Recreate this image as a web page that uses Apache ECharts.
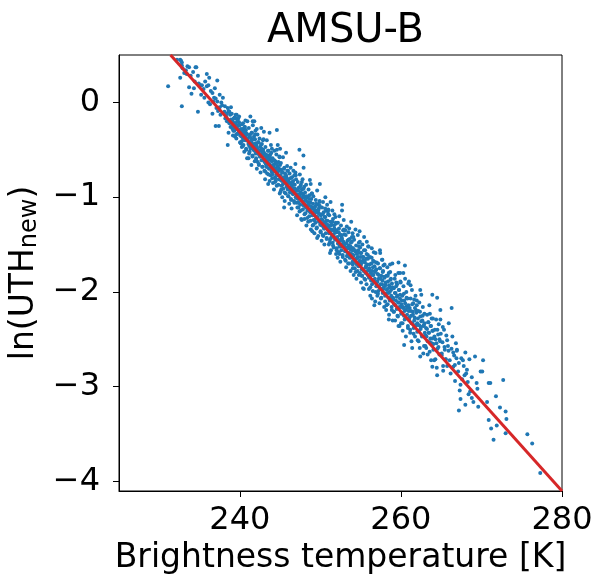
<!DOCTYPE html>
<html>
<head>
<meta charset="utf-8">
<script src="https://cdn.jsdelivr.net/npm/echarts@6/dist/echarts.min.js"></script>
<style>
  html, body { margin: 0; padding: 0; background: #fff; }
  #chart { width: 596px; height: 581px; }
</style>
</head>
<body>
<div id="chart"></div>
<script>
// tick positions
const xTicks = [240, 260, 280]
const yTicks = [-4, -3, -2, -1, 0]

// [brightness temperature K, ln(UTH_new)], cold (sparse) end
const coldEnd = [
  [231.1,0.17],
  [232.2,0.45],[232.6,0.45],[232.7,0.44],[232.8,0.42],[232.8,0.39],[232.6,0.26],[232.8,-0.04],[232.9,0.36],
  [233.3,0.34],[233.5,0.38],[233.7,0.37],[233.7,0.16],[233.4,0.30],[233.9,0.28],[233.1,0.31],
  [234.0,0.09],[234.2,0.32],[234.5,0.37],[234.6,0.37],[234.8,0.28],[234.8,-0.10],[234.4,0.22],[234.9,0.20],[234.3,0.15],
  [235.1,0.18],[235.3,0.18],[235.9,0.30],[235.9,0.17],[235.5,0.14],[235.7,0.22],[235.2,0.08],[235.6,0.05],
  [236.1,0.18],[236.2,0.26],[236.6,0.10],[236.8,0.05],[236.1,0.00],[236.6,-0.12],[236.4,0.12],[236.9,0.15],[236.3,-0.02],[236.7,0.01],
  [237.2,0.23],[237.0,0.04],[237.2,0.01],[237.8,-0.03],[237.6,-0.13],[237.0,-0.25],[237.4,-0.25],[237.5,-0.05],[237.3,-0.09],[237.9,0.05],[237.7,0.00],[237.1,-0.06],[237.5,0.08],
  [238.5,-0.06],[238.7,-0.22],[238.6,-0.32],[238.5,-0.45],[238.1,-0.10],[238.3,-0.15],[238.4,-0.12],[238.8,-0.13],[238.9,-0.18],[238.2,-0.17],[238.6,-0.09],[238.9,-0.05],[238.4,-0.20],[238.7,-0.10],[238.15,-0.04],[238.85,-0.26],
  [239.0,-0.12],[239.5,-0.17],[239.4,-0.36],[239.1,-0.20],[239.2,-0.25],[239.3,-0.22],[239.6,-0.28],[239.7,-0.20],[239.8,-0.24],[239.9,-0.30],[239.5,-0.23],[239.2,-0.30],[239.6,-0.13],[239.8,-0.17],[239.4,-0.27],[239.9,-0.21],[239.1,-0.28],[239.7,-0.33],[239.35,-0.16],[239.55,-0.34]
]

// dense middle of the band
const midBand = [
  [240.05,-0.35],[240.1,-0.43],[240.15,-0.30],[240.2,-0.36],[240.25,-0.41],[240.3,-0.33],[240.35,-0.28],[240.4,-0.38],[240.45,-0.45],[240.5,-0.34],[240.55,-0.31],[240.6,-0.26],[240.65,-0.40],[240.7,-0.36],[240.75,-0.29],[240.8,-0.50],[240.85,-0.33],[240.9,-0.59],[240.95,-0.38],[240.4,-0.22],[240.7,-0.19],[240.25,-0.47],[240.55,-0.52],
  [241.03,-0.41],[241.08,-0.59],[241.12,-0.27],[241.17,-0.46],[241.22,-0.52],[241.26,-0.34],[241.31,-0.15],[241.35,-0.48],[241.40,-0.38],[241.44,-0.66],[241.49,-0.32],[241.53,-0.43],[241.58,-0.56],[241.62,-0.24],[241.67,-0.45],[241.71,-0.50],[241.76,-0.36],[241.80,-0.20],[241.85,-0.62],[241.89,-0.39],[241.94,-0.30],[241.98,-0.54],[241.6,-0.20],
  [242.02,-0.59],[242.06,-0.45],[242.11,-0.70],[242.15,-0.49],[242.19,-0.34],[242.23,-0.63],[242.28,-0.53],[242.32,-0.42],[242.36,-0.66],[242.40,-0.55],[242.45,-0.38],[242.49,-0.57],[242.53,-0.47],[242.57,-0.74],[242.61,-0.51],[242.66,-0.27],[242.70,-0.61],[242.74,-0.44],[242.78,-0.54],[242.83,-0.68],[242.87,-0.40],[242.91,-0.50],[242.95,-0.56],[242.99,-0.31],[242.1,-0.28],
  [243.01,-0.53],[243.05,-0.72],[243.10,-0.62],[243.14,-0.81],[243.18,-0.47],[243.22,-0.65],[243.27,-0.58],[243.31,-0.68],[243.35,-0.40],[243.39,-0.75],[243.44,-0.56],[243.48,-0.63],[243.52,-0.86],[243.56,-0.51],[243.61,-0.70],[243.65,-0.60],[243.69,-0.32],[243.73,-0.66],[243.78,-0.55],[243.82,-0.77],[243.86,-0.45],[243.90,-0.61],[243.95,-0.73],[243.98,-0.49],[243.7,-0.83],
  [244.03,-0.76],[244.07,-0.59],[244.12,-0.85],[244.16,-0.68],[244.20,-0.73],[244.24,-0.92],[244.29,-0.51],[244.33,-0.65],[244.37,-0.79],[244.41,-0.62],[244.46,-0.83],[244.50,-0.71],[244.54,-0.55],[244.58,-0.88],[244.63,-0.67],[244.67,-0.74],[244.71,-0.45],[244.75,-0.77],[244.80,-0.63],[244.84,-0.81],[244.88,-0.70],[244.92,-0.57],[244.96,-0.96],[244.99,-0.66],[244.6,-0.29],[244.6,-0.50],[244.4,-0.80],
  [245.02,-0.77],[245.06,-0.94],[245.10,-0.64],[245.15,-0.88],[245.19,-0.71],[245.23,-0.83],[245.27,-1.00],[245.32,-0.74],[245.36,-0.58],[245.40,-0.91],[245.44,-0.80],[245.49,-0.85],[245.53,-0.69],[245.57,-1.04],[245.61,-0.75],[245.66,-0.82],[245.70,-0.96],[245.74,-0.53],[245.78,-0.79],[245.83,-0.89],[245.87,-0.67],[245.91,-0.84],[245.95,-0.92],[245.98,-0.72],[245.0,-0.49],[245.5,-1.11],
  [246.01,-0.99],[246.05,-0.82],[246.09,-0.90],[246.14,-1.07],[246.18,-0.75],[246.22,-0.95],[246.26,-0.85],[246.31,-0.69],[246.35,-1.02],[246.39,-0.88],[246.43,-1.12],[246.48,-0.79],[246.52,-0.93],[246.56,-0.84],[246.60,-0.97],[246.65,-0.72],[246.69,-0.91],[246.73,-1.04],[246.77,-0.77],[246.82,-0.87],[246.86,-0.94],[246.90,-0.65],[246.94,-1.00],[246.98,-0.81],[246.9,-0.74],
  [247.03,-0.93],[247.07,-1.06],[247.11,-1.19],[247.15,-0.97],[247.20,-0.84],[247.24,-1.02],[247.28,-1.11],[247.32,-0.90],[247.37,-0.99],[247.41,-1.15],[247.45,-0.76],[247.49,-1.08],[247.54,-0.95],[247.58,-0.87],[247.62,-1.23],[247.66,-1.01],[247.71,-0.92],[247.75,-1.04],[247.79,-0.81],[247.83,-1.13],[247.88,-0.98],[247.92,-0.69],[247.96,-1.09],[247.99,-0.89],[247.4,-0.50],[247.9,-0.56],[247.7,-0.84],[247.7,-1.24],
  [248.02,-1.23],[248.06,-1.08],[248.10,-0.95],[248.14,-1.17],[248.19,-1.03],[248.23,-0.87],[248.27,-1.30],[248.31,-1.11],[248.36,-1.00],[248.40,-1.14],[248.44,-1.05],[248.48,-1.26],[248.53,-0.92],[248.57,-1.09],[248.61,-1.20],[248.65,-0.98],[248.70,-0.82],[248.74,-1.16],[248.78,-1.06],[248.82,-1.34],[248.87,-1.02],[248.91,-1.12],[248.95,-0.96],[248.98,-1.19],[248.8,-0.86],
  [249.01,-1.16],[249.05,-1.30],[249.09,-1.07],[249.13,-0.99],[249.18,-1.24],[249.22,-1.13],[249.26,-1.38],[249.30,-1.19],[249.35,-1.10],[249.39,-1.27],[249.43,-1.03],[249.47,-1.21],[249.52,-1.33],[249.56,-1.14],[249.60,-0.93],[249.64,-1.22],[249.69,-1.08],[249.73,-1.41],[249.77,-1.17],[249.81,-1.12],[249.86,-1.25],[249.90,-1.05],[249.94,-0.86],[249.98,-1.29],[249.9,-1.04],[249.0,-1.36],[249.6,-1.43],
  [250.03,-1.36],[250.07,-1.19],[250.11,-1.29],[250.16,-1.46],[250.20,-1.11],[250.24,-1.24],[250.28,-1.40],[250.33,-1.05],[250.37,-1.31],[250.41,-1.16],[250.45,-1.33],[250.50,-1.50],[250.54,-1.21],[250.58,-1.27],[250.62,-1.00],[250.67,-1.38],[250.71,-1.14],[250.75,-1.30],[250.79,-1.43],[250.84,-1.08],[250.88,-1.25],[250.92,-1.34],[250.96,-1.18],[250.99,-1.13],[250.6,-1.12],
  [251.02,-1.32],[251.06,-1.50],[251.10,-1.19],[251.15,-1.37],[251.19,-1.45],[251.23,-1.26],[251.27,-1.05],[251.32,-1.56],[251.36,-1.34],[251.40,-1.29],[251.44,-1.41],[251.49,-1.14],[251.53,-1.48],[251.57,-1.23],[251.61,-1.39],[251.66,-1.53],[251.70,-1.30],[251.74,-1.18],[251.78,-1.36],[251.83,-1.43],[251.87,-1.21],[251.91,-1.27],[251.95,-1.60],[251.98,-1.35],[251.2,-1.59],
  [252.01,-1.54],[252.05,-1.37],[252.09,-1.44],[252.14,-1.64],[252.18,-1.27],[252.22,-1.49],[252.26,-1.58],[252.31,-1.33],[252.35,-1.20],[252.39,-1.52],[252.43,-1.40],[252.48,-1.68],[252.52,-1.45],[252.56,-1.30],[252.60,-1.56],[252.65,-1.42],[252.69,-1.14],[252.73,-1.50],[252.77,-1.61],[252.82,-1.35],[252.86,-1.47],[252.90,-1.24],[252.94,-1.51],[252.98,-1.39],[252.7,-1.08],
  [253.03,-1.49],[253.07,-1.66],[253.11,-1.57],[253.15,-1.40],[253.20,-1.74],[253.24,-1.53],[253.28,-1.31],[253.32,-1.62],[253.37,-1.46],[253.41,-1.59],[253.45,-1.70],[253.49,-1.37],[253.54,-1.51],[253.58,-1.33],[253.62,-1.64],[253.66,-1.44],[253.71,-1.55],[253.75,-1.78],[253.79,-1.48],[253.83,-1.26],[253.88,-1.60],[253.92,-1.42],[253.96,-1.54],[253.99,-1.68],[253.1,-1.35],
  [254.02,-1.71],[254.06,-1.54],[254.10,-1.62],[254.14,-1.82],[254.19,-1.45],[254.23,-1.66],[254.27,-1.75],[254.31,-1.57],[254.36,-1.34],[254.40,-1.69],[254.44,-1.51],[254.48,-1.86],[254.53,-1.60],[254.57,-1.64],[254.61,-1.78],[254.65,-1.40],[254.70,-1.56],[254.74,-1.73],[254.78,-1.48],[254.82,-1.68],[254.87,-1.36],[254.91,-1.80],[254.95,-1.59],[254.98,-1.63],[254.0,-1.38],[254.1,-1.42],[254.8,-1.52],[254.9,-1.47],
  [255.01,-1.72],[255.05,-1.90],[255.09,-1.59],[255.13,-1.76],[255.18,-1.83],[255.22,-1.50],[255.26,-1.67],[255.30,-1.96],[255.35,-1.63],[255.39,-1.78],[255.43,-1.42],[255.47,-1.86],[255.52,-1.69],[255.56,-1.56],[255.60,-1.80],[255.64,-1.74],[255.69,-1.65],[255.73,-1.92],[255.77,-1.47],[255.81,-1.71],[255.86,-1.82],[255.90,-1.61],[255.94,-1.52],[255.98,-1.77],[255.4,-1.97],
  [256.03,-1.97],[256.07,-1.75],[256.12,-1.84],[256.16,-1.63],[256.20,-2.04],[256.25,-1.80],[256.29,-1.88],[256.33,-1.70],[256.38,-1.54],[256.42,-1.92],[256.46,-1.78],[256.51,-1.99],[256.55,-1.67],[256.59,-1.82],[256.64,-1.58],[256.68,-1.89],[256.72,-1.73],[256.77,-1.86],[256.81,-2.10],[256.85,-1.59],[256.90,-1.77],[256.94,-1.94],[256.98,-1.69],[256.4,-2.07],[256.7,-2.14],
  [257.02,-1.90],[257.07,-2.04],[257.11,-1.81],[257.16,-1.70],[257.20,-1.99],[257.25,-1.86],[257.29,-1.94],[257.34,-2.12],[257.38,-1.75],[257.43,-1.59],[257.47,-1.92],[257.52,-2.07],[257.56,-1.83],[257.61,-1.97],[257.65,-1.66],[257.70,-1.88],[257.74,-2.01],[257.79,-1.78],[257.83,-1.72],[257.88,-1.95],[257.92,-2.16],[257.97,-1.85],[257.4,-1.56],[257.7,-1.66],
  [258.04,-2.10],[258.08,-1.93],[258.13,-2.02],[258.17,-2.19],[258.22,-1.83],[258.26,-1.98],[258.31,-1.74],[258.35,-2.13],[258.40,-1.89],[258.44,-2.06],[258.49,-1.80],[258.53,-2.24],[258.58,-1.95],[258.62,-2.00],[258.67,-1.79],[258.71,-2.07],[258.76,-1.86],[258.80,-2.04],[258.85,-2.16],[258.89,-1.91],[258.94,-1.70],[258.98,-2.30],[258.5,-2.29],[258.65,-1.71],
  [259.03,-2.06],[259.08,-2.21],[259.13,-1.96],[259.18,-2.13],[259.23,-1.86],[259.28,-2.30],[259.33,-2.01],[259.38,-2.09],[259.43,-1.90],[259.48,-2.18],[259.53,-1.92],[259.58,-2.04],[259.63,-2.26],[259.68,-1.80],[259.73,-2.11],[259.78,-1.98],[259.83,-2.36],[259.88,-2.07],[259.93,-1.89],[259.98,-2.16],[259.7,-1.69],[259.9,-1.80],[259.3,-1.82],[259.7,-2.36],
  [260.02,-2.33],[260.07,-2.13],[260.12,-2.22],[260.17,-2.04],[260.22,-2.41],[260.27,-2.17],[260.32,-1.94],[260.37,-2.25],[260.42,-2.09],[260.47,-2.29],[260.52,-1.86],[260.57,-2.19],[260.62,-2.47],[260.67,-2.00],[260.72,-2.15],[260.77,-2.24],[260.82,-2.07],[260.87,-2.36],[260.92,-1.91],[260.97,-2.20],[260.5,-1.72],[260.3,-1.80],[260.4,-2.56],
  [261.04,-2.30],[261.09,-2.17],[261.15,-2.43],[261.20,-2.07],[261.26,-2.25],[261.31,-2.52],[261.37,-1.98],[261.42,-2.33],[261.48,-2.21],[261.53,-2.12],[261.59,-2.38],[261.64,-2.08],[261.70,-2.27],[261.75,-2.47],[261.81,-2.04],[261.86,-2.19],[261.92,-2.35],[261.97,-2.14],[261.0,-1.89],[261.2,-1.93],[261.4,-2.59]
]

// extra points packed close to the line where the band is solid
const coreFill = [
  [239.07,-0.25],[239.15,-0.35],[239.24,-0.17],[239.32,-0.30],[239.41,-0.22],[239.49,-0.13],[239.57,-0.38],[239.66,-0.27],[239.74,-0.20],[239.82,-0.32],[239.91,-0.15],[239.97,-0.24],
  [240.03,-0.42],[240.11,-0.28],[240.20,-0.35],[240.28,-0.23],[240.37,-0.46],[240.45,-0.32],[240.53,-0.38],[240.62,-0.26],[240.70,-0.30],[240.78,-0.49],[240.87,-0.34],[240.94,-0.20],
  [241.07,-0.44],[241.15,-0.54],[241.24,-0.36],[241.32,-0.49],[241.41,-0.41],[241.49,-0.32],[241.57,-0.57],[241.66,-0.46],[241.74,-0.39],[241.82,-0.51],[241.91,-0.34],[241.97,-0.43],
  [242.03,-0.61],[242.11,-0.47],[242.20,-0.54],[242.28,-0.42],[242.37,-0.65],[242.45,-0.51],[242.53,-0.57],[242.62,-0.45],[242.70,-0.49],[242.78,-0.68],[242.87,-0.53],[242.94,-0.39],
  [243.07,-0.63],[243.15,-0.73],[243.24,-0.55],[243.32,-0.68],[243.41,-0.60],[243.49,-0.51],[243.57,-0.76],[243.66,-0.65],[243.74,-0.58],[243.82,-0.70],[243.91,-0.53],[243.97,-0.62],
  [244.03,-0.80],[244.11,-0.66],[244.20,-0.73],[244.28,-0.61],[244.37,-0.84],[244.45,-0.70],[244.53,-0.76],[244.62,-0.64],[244.70,-0.68],[244.78,-0.87],[244.87,-0.72],[244.94,-0.58],
  [245.07,-0.82],[245.15,-0.92],[245.24,-0.74],[245.32,-0.87],[245.41,-0.79],[245.49,-0.70],[245.57,-0.95],[245.66,-0.84],[245.74,-0.77],[245.82,-0.89],[245.91,-0.72],[245.97,-0.81],
  [246.03,-0.99],[246.11,-0.85],[246.20,-0.92],[246.28,-0.80],[246.37,-1.03],[246.45,-0.89],[246.53,-0.95],[246.62,-0.83],[246.70,-0.87],[246.78,-1.06],[246.87,-0.91],[246.94,-0.77],
  [247.07,-1.01],[247.15,-1.11],[247.24,-0.93],[247.32,-1.06],[247.41,-0.98],[247.49,-0.89],[247.57,-1.14],[247.66,-1.03],[247.74,-0.96],[247.82,-1.08],[247.91,-0.91],[247.97,-1.00],
  [248.03,-1.18],[248.11,-1.04],[248.20,-1.11],[248.28,-0.99],[248.37,-1.22],[248.45,-1.08],[248.53,-1.14],[248.62,-1.02],[248.70,-1.06],[248.78,-1.25],[248.87,-1.10],[248.94,-0.96],
  [249.07,-1.19],[249.15,-1.29],[249.24,-1.11],[249.32,-1.24],[249.41,-1.16],[249.49,-1.07],[249.57,-1.32],[249.66,-1.21],[249.74,-1.14],[249.82,-1.26],[249.91,-1.09],[249.97,-1.18],
  [250.03,-1.37],[250.11,-1.23],[250.20,-1.30],[250.28,-1.18],[250.37,-1.41],[250.45,-1.27],[250.53,-1.33],[250.62,-1.21],[250.70,-1.25],[250.78,-1.44],[250.87,-1.29],[250.94,-1.15],
  [251.07,-1.38],[251.15,-1.48],[251.24,-1.30],[251.32,-1.43],[251.41,-1.35],[251.49,-1.26],[251.57,-1.51],[251.66,-1.40],[251.74,-1.33],[251.82,-1.45],[251.91,-1.28],[251.97,-1.37],
  [252.03,-1.56],[252.11,-1.42],[252.20,-1.49],[252.28,-1.37],[252.37,-1.60],[252.45,-1.46],[252.53,-1.52],[252.62,-1.40],[252.70,-1.44],[252.78,-1.63],[252.87,-1.48],[252.94,-1.34],
  [253.07,-1.57],[253.15,-1.67],[253.24,-1.49],[253.32,-1.62],[253.41,-1.54],[253.49,-1.45],[253.57,-1.70],[253.66,-1.59],[253.74,-1.52],[253.82,-1.64],[253.91,-1.47],[253.97,-1.56],
  [254.03,-1.75],[254.11,-1.61],[254.20,-1.68],[254.28,-1.56],[254.37,-1.79],[254.45,-1.65],[254.53,-1.71],[254.62,-1.59],[254.70,-1.63],[254.78,-1.82],[254.87,-1.67],[254.94,-1.53],
  [255.07,-1.70],[255.15,-1.83],[255.24,-1.63],[255.32,-1.76],[255.41,-1.56],[255.49,-1.67],[255.57,-1.87],[255.66,-1.73],[255.74,-1.60],[255.82,-1.78],[255.91,-1.65],[255.97,-1.52],
  [256.03,-1.85],[256.11,-1.71],[256.20,-1.95],[256.28,-1.78],[256.37,-1.64],[256.45,-1.82],[256.53,-1.74],[256.62,-1.90],[256.70,-1.68],[256.78,-1.79],[256.87,-2.00],[256.94,-1.76],
  [257.07,-1.89],[257.15,-2.02],[257.24,-1.82],[257.32,-1.95],[257.41,-1.75],[257.49,-1.86],[257.57,-2.06],[257.66,-1.92],[257.74,-1.79],[257.82,-1.97],[257.91,-1.84],[257.97,-1.71],
  [258.03,-2.04],[258.11,-1.90],[258.20,-2.14],[258.28,-1.97],[258.37,-1.83],[258.45,-2.01],[258.53,-1.93],[258.62,-2.09],[258.70,-1.87],[258.78,-1.98],[258.87,-2.19],[258.94,-1.95],
  [259.07,-2.08],[259.15,-2.21],[259.24,-2.01],[259.32,-2.14],[259.41,-1.94],[259.49,-2.05],[259.57,-2.25],[259.66,-2.11],[259.74,-1.98],[259.82,-2.16],[259.91,-2.03],[259.97,-1.90],
  [260.03,-2.23],[260.11,-2.09],[260.20,-2.33],[260.28,-2.16],[260.37,-2.02],[260.45,-2.20],[260.53,-2.12],[260.62,-2.28],[260.70,-2.06],[260.78,-2.17],[260.87,-2.38],[260.94,-2.14],
  [261.07,-2.27],[261.15,-2.40],[261.24,-2.20],[261.32,-2.33],[261.41,-2.13],[261.49,-2.24],[261.57,-2.44],[261.66,-2.30],[261.74,-2.17],[261.82,-2.35],[261.91,-2.22],[261.97,-2.09],
  [262.03,-2.42],[262.11,-2.28],[262.20,-2.52],[262.28,-2.35],[262.37,-2.21],[262.45,-2.39],[262.53,-2.31],[262.62,-2.47],[262.70,-2.25],[262.78,-2.36],[262.87,-2.57],[262.94,-2.33],
  [263.07,-2.46],[263.15,-2.59],[263.24,-2.39],[263.32,-2.52],[263.41,-2.32],[263.49,-2.43],[263.57,-2.63],[263.66,-2.49],[263.74,-2.36],[263.82,-2.54],[263.91,-2.41],[263.97,-2.28],
  [264.03,-2.61],[264.16,-2.47],[264.28,-2.71],[264.41,-2.54],[264.53,-2.40],[264.66,-2.58],[264.78,-2.50],[264.91,-2.66],
  [265.07,-2.65],[265.24,-2.78],[265.41,-2.58],[265.57,-2.71],[265.74,-2.51],[265.91,-2.62]
]

// warm end, thinning out
const warmEnd = [
  [262.03,-2.33],[262.09,-2.51],[262.16,-2.20],[262.22,-2.41],[262.28,-2.11],[262.34,-2.59],[262.41,-2.26],[262.47,-2.37],[262.53,-2.03],[262.59,-2.46],[262.66,-2.30],[262.72,-2.16],[262.78,-2.65],[262.84,-2.35],[262.91,-2.23],[262.97,-2.43],[262.4,-1.98],[262.4,-2.68],
  [263.04,-2.57],[263.11,-2.38],[263.18,-2.47],[263.25,-2.24],[263.32,-2.66],[263.39,-2.32],[263.46,-2.43],[263.53,-2.14],[263.61,-2.53],[263.68,-2.36],[263.75,-2.72],[263.82,-2.28],[263.89,-2.49],[263.96,-2.41],[263.9,-2.03],[263.6,-2.23],[263.9,-2.79],
  [264.05,-2.55],[264.13,-2.72],[264.21,-2.40],[264.29,-2.50],[264.37,-2.29],[264.45,-2.80],[264.54,-2.60],[264.62,-2.45],[264.70,-2.34],[264.78,-2.66],[264.86,-2.52],[264.95,-2.44],[264.5,-2.06],[264.9,-2.19],[264.9,-2.29],[264.5,-2.88],
  [265.06,-2.67],[265.16,-2.53],[265.25,-2.83],[265.35,-2.40],[265.45,-2.61],[265.55,-2.71],[265.64,-2.46],[265.74,-2.78],[265.84,-2.57],[265.94,-2.33],[265.2,-2.37],
  [266.06,-2.72],[266.17,-2.86],[266.28,-2.60],[266.39,-2.47],[266.50,-2.79],[266.61,-2.67],[266.72,-2.94],[266.83,-2.54],[266.94,-2.62],[266.3,-2.17],[266.5,-2.64],[266.7,-2.77],
  [267.1,-2.84],[267.3,-3.04],[267.4,-3.13],[267.2,-3.25],[267.5,-2.70],[267.6,-2.92],[267.8,-2.78],[266.96,-2.61],[267.4,-2.98],[267.9,-2.88],[267.2,-2.75],[267.7,-2.72],[266.9,-2.70],
  [268.0,-2.64],[268.5,-2.71],[268.0,-3.19],[268.3,-2.95],[268.6,-3.05],[268.8,-2.90],[268.2,-2.82],[268.1,-2.86],[268.4,-3.08],[268.8,-3.12],
  [269.2,-2.68],[269.4,-2.96],[269.9,-2.84],[269.0,-3.16],[269.6,-3.21],[269.5,-3.02],
  [270.2,-2.72],[270.1,-2.84],[270.9,-2.96],[270.7,-3.16],[270.9,-3.35],
  [271.1,-2.96],[271.8,-3.10],[271.2,-3.44],[271.9,-3.41],[271.5,-3.56],
  [272.7,-2.93],[272.3,-3.22],
  [273.0,-3.26],[273.1,-3.34],[273.0,-3.49],
  [275.7,-3.50],[276.3,-3.60],[277.3,-3.91]
]

// red regression line end points
const fitLine = [[231.4, 0.5], [280, -4.1]]

const FONT = 'DejaVu Sans'
const minus = (v) => String(v).replace('-', '\u2212')

const chart = echarts.init(document.getElementById('chart'))
chart.setOption({
  animation: false,
  backgroundColor: '#fff',
  title: {
    text: 'AMSU-B',
    left: 340.5,
    top: 7,
    textAlign: 'center',
    textStyle: { fontFamily: FONT, fontSize: 40, fontWeight: 'normal', color: '#000' }
  },
  grid: {
    left: 119,
    top: 55,
    right: 34,
    bottom: 90,
    show: true,
    borderColor: '#000',
    borderWidth: 1,
    outerBoundsMode: 'none'
  },
  xAxis: {
    type: 'value',
    min: 225,
    max: 280,
    name: 'Brightness temperature [K]',
    nameLocation: 'middle',
    nameGap: 51,
    nameTextStyle: { fontFamily: FONT, fontSize: 33, color: '#000' },
    splitLine: { show: false },
    axisLine: { onZero: false, lineStyle: { color: '#000', width: 1 } },
    axisTick: { customValues: xTicks, length: 6, lineStyle: { color: '#000', width: 1 } },
    axisLabel: { customValues: xTicks, margin: 14, fontFamily: FONT, fontSize: 32, color: '#000' }
  },
  yAxis: {
    type: 'value',
    min: -4.1,
    max: 0.5,
    name: '{a|ln(UTH}{b|new}{a|)}',
    nameLocation: 'middle',
    nameRotate: 90,
    nameGap: 74,
    nameTextStyle: {
      fontFamily: FONT,
      color: '#000',
      rich: {
        a: { fontFamily: FONT, fontSize: 33, color: '#000' },
        b: { fontFamily: FONT, fontSize: 24, color: '#000', padding: [11, 0, 0, 0] }
      }
    },
    splitLine: { show: false },
    axisLine: { onZero: false, lineStyle: { color: '#000', width: 1 } },
    axisTick: { customValues: yTicks, length: 6, lineStyle: { color: '#000', width: 1 } },
    axisLabel: {
      customValues: yTicks,
      margin: 19,
      fontFamily: FONT,
      fontSize: 32,
      color: '#000',
      formatter: (v) => minus(v)
    }
  },
  series: [
    {
      type: 'scatter',
      data: coldEnd.concat(midBand, coreFill, warmEnd),
      symbol: 'circle',
      symbolSize: 4,
      itemStyle: { color: '#1f77b4', opacity: 1 },
      emphasis: { disabled: true },
      z: 2
    },
    {
      type: 'line',
      data: fitLine,
      showSymbol: false,
      symbol: 'none',
      lineStyle: { color: '#d62728', width: 3 },
      emphasis: { disabled: true },
      z: 3
    }
  ]
})
</script>
</body>
</html>
